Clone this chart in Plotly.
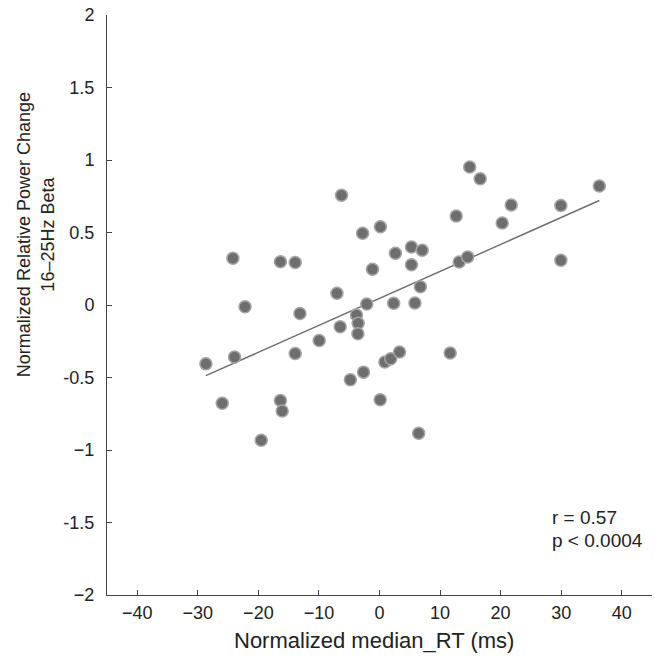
import numpy as np
import plotly.graph_objects as go

# Normalized median RT (ms)
rt = [36.3, 29.95, 21.75, 20.26, 29.95, 14.89, 16.63, 12.67, 13.16, 14.56,
      -2.11, 2.34, 5.85, 6.75, -1.16, 2.63, 5.28, 7.05, 5.28, 0.15,
      -2.79, -6.27, -7.03, -24.21, -16.36, -13.92, -22.21, -13.14, -6.49, -3.80,
      -3.52, -3.57, -9.96, -28.67, -23.94, -13.92, -4.81, -2.64, 0.89, 1.85,
      3.30, 11.67, -25.97, -16.36, -16.07, 0.12, -19.53, 6.47]
# Normalized relative power change (16-25 Hz beta)
beta = [0.821, 0.686, 0.690, 0.566, 0.308, 0.952, 0.871, 0.614, 0.297, 0.331,
        0.007, 0.012, 0.014, 0.126, 0.247, 0.357, 0.400, 0.377, 0.278, 0.539,
        0.495, 0.757, 0.081, 0.322, 0.299, 0.293, -0.012, -0.059, -0.150, -0.069,
        -0.126, -0.198, -0.245, -0.406, -0.359, -0.334, -0.515, -0.463, -0.393, -0.371,
        -0.324, -0.331, -0.678, -0.659, -0.731, -0.653, -0.933, -0.885]

x_ticks = [-40, -30, -20, -10, 0, 10, 20, 30, 40]
x_ticktext = ["\u221240", "\u221230", "\u221220", "\u221210", "0", "10", "20", "30", "40"]
y_ticks = [2, 1.5, 1, 0.5, 0, -0.5, -1, -1.5, -2]
y_ticktext = ["2", "1.5", "1", "0.5", "0", "-0.5", "\u22121", "-1.5", "\u22122"]

stats_lines = ["r = 0.57", "p < 0.0004"]

# least-squares fit
slope, intercept = np.polyfit(rt, beta, 1)
fx = np.array([min(rt), max(rt)])
fy = slope * fx + intercept

FONT = "Liberation Sans, Arial, Helvetica, sans-serif"
AX = "#444444"

fig = go.Figure()
fig.add_trace(go.Scatter(x=fx, y=fy, mode="lines",
                         line=dict(color="#707070", width=1.5),
                         hoverinfo="skip", showlegend=False))
fig.add_trace(go.Scatter(x=rt, y=beta, mode="markers",
                         marker=dict(size=12, color="#6e6e6e",
                                     line=dict(color="#a6a6a6", width=1.5)),
                         showlegend=False))

fig.update_layout(
    width=655, height=660,
    margin=dict(l=107, r=3, t=15, b=65),
    plot_bgcolor="white", paper_bgcolor="white",
    font=dict(family=FONT, size=18, color="#222222"),
    xaxis=dict(range=[-45, 45], tickvals=x_ticks, ticktext=x_ticktext,
               ticks="inside", ticklen=5, tickcolor=AX, showline=True,
               linecolor=AX, linewidth=1, showgrid=False, zeroline=False,
               tickfont=dict(size=18), ticklabelstandoff=1,
               ticklabeloverflow="allow", automargin=False),
    yaxis=dict(range=[-2, 2], tickvals=y_ticks, ticktext=y_ticktext,
               ticks="inside", ticklen=5, tickcolor=AX, showline=True,
               linecolor=AX, linewidth=1, showgrid=False, zeroline=False,
               tickfont=dict(size=18), ticklabelstandoff=8,
               ticklabeloverflow="allow", automargin=False),
)

annos = [
    dict(text="Normalized median_RT (ms)", x=0.49, y=-0.0776, xref="paper", yref="paper",
         xanchor="center", yanchor="middle", showarrow=False, font=dict(size=22)),
    dict(text="Normalized Relative Power Change<br>16\u201325Hz Beta", x=-0.130, y=0.6207,
         xref="paper", yref="paper", xanchor="center", yanchor="middle",
         textangle=-90, showarrow=False, font=dict(size=18)),
    dict(text=stats_lines[0], x=0.8147, y=0.1328, xref="paper", yref="paper",
         xanchor="left", yanchor="middle", showarrow=False, font=dict(size=19),
         borderpad=0),
    dict(text=stats_lines[1], x=0.8147, y=0.0948, xref="paper", yref="paper",
         xanchor="left", yanchor="middle", showarrow=False, font=dict(size=19),
         borderpad=0),
]
fig.update_layout(annotations=annos)

# remove the browser's default page margin so the figure sits at the top-left corner
fig.write_html("out.html",
               config={"displayModeBar": False},
               post_script="document.body.style.margin='0';")
